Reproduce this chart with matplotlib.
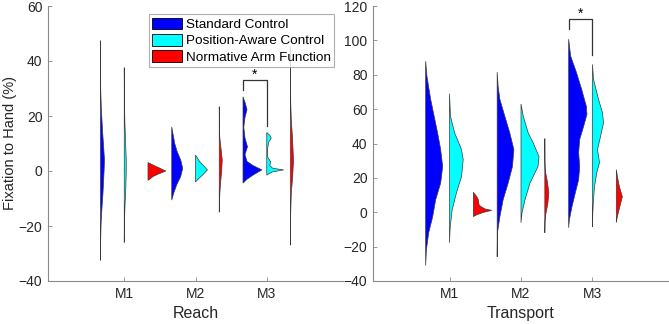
import numpy as np
import matplotlib.pyplot as plt
from matplotlib.patches import Patch

plt.rcParams['font.family'] = ['Liberation Sans', 'DejaVu Sans']

groups = ['M1', 'M2', 'M3']
series = ['Standard Control', 'Position-Aware Control', 'Normative Arm Function']
colors = ['#0000ff', '#00ffff', '#ff0000']

# half-violin outlines: y levels and density (width)
# Reach
reach_y = {
    ('M1', 0): [47.4, 30, 23, 15, 8, 4, 0, -8, -15, -19, -25, -32.5],
    ('M1', 1): [37.6, 25, 18, 10, 4, 0, -6, -14, -20, -26],
    ('M1', 2): [3, 2, 1, 0.3, 0, -0.3, -1, -2, -3.3],
    ('M2', 0): [16, 13, 10, 7, 4, 1, -2, -5, -8, -10.6],
    ('M2', 1): [5.8, 5, 3.5, 2, 0.4, -1.5, -3, -4],
    ('M2', 2): [23.4, 15, 12, 8, 4, 0, -4, -8, -12, -15],
    ('M3', 0): [27, 25, 22.3, 19.5, 16, 12, 8.8, 6, 3.5, 2, 0.4, -1.5, -3, -4.4],
    ('M3', 1): [14, 13, 12, 10.5, 8, 5, 3.3, 2, 1, 0.4, -0.3, -1, -1.5],
    ('M3', 2): [45, 25, 18.6, 12, 4, -2, -8, -15, -27],
}
reach_w = {
    ('M1', 0): [0, 0.2, 0.8, 2, 3.3, 4, 3.6, 2.5, 1.2, 0.6, 0.2, 0],
    ('M1', 1): [0, 0.2, 0.6, 1.4, 2, 2, 1.6, 0.6, 0.2, 0],
    ('M1', 2): [0.5, 6, 12, 16, 18, 16, 11, 5, 0.5],
    ('M2', 0): [0, 1.5, 3, 5.5, 9, 11, 9, 5, 2, 0],
    ('M2', 1): [0, 1.5, 4, 8, 12, 7, 2.5, 0],
    ('M2', 2): [0, 0.2, 0.6, 1.8, 3, 2.4, 1.4, 0.6, 0.2, 0],
    ('M3', 0): [0, 2, 4, 2, 0.8, 2, 4.5, 2, 4, 10, 19, 10, 4, 0],
    ('M3', 1): [0, 3, 4.5, 2, 0.8, 1, 4, 3, 6, 17, 6, 2, 0],
    ('M3', 2): [0, 0.2, 0.8, 2, 3, 2.2, 0.8, 0.2, 0],
}
# Transport
transport_y = {
    ('M1', 0): [87.9, 79, 65.7, 46, 36.5, 26.6, 17, 7.3, -2.6, -12, -22, -31],
    ('M1', 1): [69, 55.8, 46.4, 36.5, 30.7, 20.7, 11.4, 1.5, -8.5, -17.8],
    ('M1', 2): [11.6, 9.2, 7.3, 4.4, 3.4, 1.9, 1.1, -0.1, -1.5, -2.5],
    ('M2', 0): [81.5, 73, 65.7, 55.8, 46, 36.5, 26.6, 17, 7.3, -2.6, -12, -26],
    ('M2', 1): [63, 55.8, 46, 40.6, 32.4, 26.6, 17, 7.3, -0.3, -6.1],
    ('M2', 2): [42.9, 30, 24, 18, 11.4, 5, -1, -4.5, -12],
    ('M3', 0): [100.7, 90.8, 81.5, 71.5, 61.6, 57, 50, 42.3, 34.7, 26.6, 19, 11.4, 3.2, -4.4, -9],
    ('M3', 1): [86, 77.4, 65.7, 58, 52, 44, 36.5, 29, 23, 14.9, 7.3, -0.3, -8.5],
    ('M3', 2): [24.8, 21, 15, 9.1, 3.3, -2.5, -6],
}
transport_w = {
    ('M1', 0): [0, 1.3, 5, 12, 15, 17, 15, 10, 7, 3, 0.7, 0],
    ('M1', 1): [0, 1, 5, 12, 13.7, 12, 7, 2.7, 0.7, 0],
    ('M1', 2): [0, 3.3, 5, 5.7, 7.3, 11.7, 18.3, 10, 3.3, 0],
    ('M2', 0): [0, 1, 2.7, 7.7, 12.7, 16.7, 15.3, 11, 6, 2.7, 0.3, 0],
    ('M2', 1): [0, 2.3, 7.3, 12, 18, 17, 9, 4, 1, 0],
    ('M2', 2): [0, 0.1, 0.5, 2.5, 4, 3, 1, 0.3, 0],
    ('M3', 0): [0, 2, 7.7, 13, 17.7, 18.3, 15, 11, 10, 11, 10, 6.7, 3.3, 0.7, 0],
    ('M3', 1): [0, 1, 6, 10, 11, 8, 5, 7, 4.3, 2, 1, 0.3, 0],
    ('M3', 2): [0, 1, 3, 6, 3.5, 1, 0],
}

# significance brackets (M3, Standard vs Position-Aware)
reach_sig = {'top': 33, 'left_end': 29.6, 'right_end': 16.4, 'star': 35}
transport_sig = {'top': 112.4, 'left_end': 106.6, 'right_end': 91.4, 'star': 115.5}

offsets = [-1 / 3, 0, 1 / 3]
dens_scale = 1 / 71.5
grey = '#8a8a8a'
txt = '#262626'


def half_violin(ax, x0, ys, ws, color):
    ys = np.asarray(ys, float)
    xs = x0 + np.asarray(ws, float) * dens_scale
    px = np.concatenate([xs, [x0, x0]])
    py = np.concatenate([ys, [ys[-1], ys[0]]])
    ax.fill(px, py, facecolor=color, edgecolor='#3a3a3a', linewidth=0.5, zorder=2)


def draw_panel(ax, yd, wd, sig, ylim, yticks, xlabel):
    for gi, g in enumerate(groups):
        for si in range(3):
            half_violin(ax, gi + 1 + offsets[si], yd[(g, si)], wd[(g, si)], colors[si])
    xl, xr = 3 + offsets[0], 3 + offsets[1]
    ax.plot([xl, xl, xr, xr], [sig['left_end'], sig['top'], sig['top'], sig['right_end']],
            color='#333333', linewidth=0.9, zorder=3)
    ax.text((xl + xr) / 2, sig['star'], '*', ha='center', va='center', fontsize=10, color='black')
    ax.set_xlim(-0.07, 4.07)
    ax.set_ylim(*ylim)
    ax.set_yticks(yticks)
    ax.set_xticks([1, 2, 3])
    ax.set_xticklabels(groups)
    ax.set_xlabel(xlabel, fontsize=11.5, color=txt, labelpad=4)
    for s in ['top', 'right']:
        ax.spines[s].set_visible(False)
    for s in ['left', 'bottom']:
        ax.spines[s].set_color(grey)
        ax.spines[s].set_linewidth(0.8)
    ax.tick_params(direction='in', length=3, width=0.6, color=grey, labelsize=10,
                   labelcolor=txt, pad=4)


fig = plt.figure(figsize=(6.69, 3.24), dpi=100)
ax1 = fig.add_axes([48 / 669, 43 / 324, 295 / 669, 275 / 324])
ax2 = fig.add_axes([373 / 669, 43 / 324, 296 / 669, 275 / 324])

draw_panel(ax1, reach_y, reach_w, reach_sig, (-40, 60), np.arange(-40, 61, 20), 'Reach')
draw_panel(ax2, transport_y, transport_w, transport_sig, (-40, 120), np.arange(-40, 121, 20), 'Transport')
ax1.set_ylabel('Fixation to Hand (%)', fontsize=10.5, color=txt, labelpad=1)

handles = [Patch(facecolor=c, edgecolor='black', linewidth=0.6) for c in colors]
leg = ax1.legend(handles, series, loc='upper right', bbox_to_anchor=(0.97, 0.97),
                 fontsize=9.7, frameon=True, fancybox=False, edgecolor='#9a9a9a',
                 handlelength=2.2, handleheight=0.95, handletextpad=0.3,
                 labelspacing=0.22, borderpad=0.25, borderaxespad=0)
leg.get_frame().set_linewidth(0.8)
leg.set_zorder(5)

fig.savefig('out.png', dpi=100)
